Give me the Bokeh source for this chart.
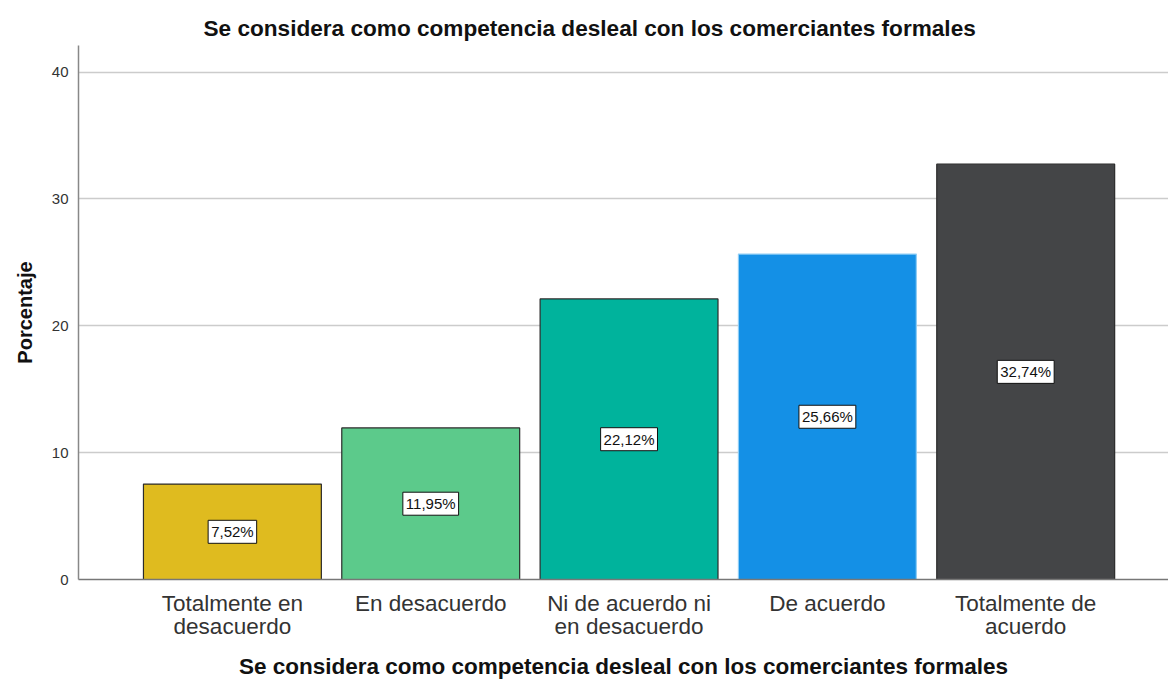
from bokeh.plotting import figure
from bokeh.models import ColumnDataSource, FixedTicker, Title
from bokeh.core.properties import value
from bokeh.embed import file_html
from bokeh.resources import INLINE

categories = ["Totalmente en\ndesacuerdo", "En desacuerdo", "Ni de acuerdo ni\nen desacuerdo", "De acuerdo", "Totalmente de\nacuerdo"]
values = [7.52, 11.95, 22.12, 25.66, 32.74]
labels = ["7,52%", "11,95%", "22,12%", "25,66%", "32,74%"]
colors = ["#DFBB1F", "#5CCA8B", "#00B39C", "#1490E6", "#444547"]
outline = ["#2b2b2b", "#2b2b2b", "#2b2b2b", "#8fcdf5", "#2b2b2b"]
y_ticks = [0, 10, 20, 30, 40]

xs = list(range(1, len(categories) + 1))
src = ColumnDataSource(dict(x=xs, top=values, mid=[v / 2 for v in values],
                            lab=labels, color=colors, outline=outline))

FONT = "Liberation Sans"

p = figure(width=1168, height=682, output_backend="svg", toolbar_location=None,
           x_range=(0.224, 5.72), y_range=(0, 42.1),
           min_border_left=78, min_border_right=0, min_border_top=45, min_border_bottom=100)

p.vbar(x="x", top="top", width=0.897, source=src, fill_color="color",
       line_color="outline", line_width=1.2)

p.text(x="x", y="mid", text="lab", source=src, text_align="center",
       text_baseline="middle", text_font_size="15px", text_font=value(FONT),
       text_color="#111111", background_fill_color="white",
       border_line_color="#111111", border_line_width=1, padding=3)

p.title = Title(text="Se considera como competencia desleal con los comerciantes formales",
                align="left", text_font=FONT, text_font_size="22.6px",
                text_font_style="bold", text_color="#111111", offset=125)

p.xaxis.ticker = FixedTicker(ticks=xs)
p.xaxis.major_label_overrides = {x: c for x, c in zip(xs, categories)}
p.xaxis.major_label_text_font = FONT
p.xaxis.major_label_text_font_size = "22.5px"
p.xaxis.major_label_text_color = "#333333"
p.xaxis.major_label_text_line_height = 0.95
p.xaxis.major_label_standoff = 5
p.xaxis.major_tick_line_color = None
p.xaxis.minor_tick_line_color = None
p.xaxis.axis_line_color = "#777777"
p.xaxis.axis_line_width = 1.5
p.xaxis.axis_label = "Se considera como competencia desleal con los comerciantes formales"
p.xaxis.axis_label_text_font = FONT
p.xaxis.axis_label_text_font_size = "22.5px"
p.xaxis.axis_label_text_font_style = "bold"
p.xaxis.axis_label_text_color = "#111111"
p.xaxis.axis_label_standoff = 12

p.yaxis.ticker = FixedTicker(ticks=y_ticks)
p.yaxis.major_label_text_font = FONT
p.yaxis.major_label_text_font_size = "15px"
p.yaxis.major_label_text_color = "#333333"
p.yaxis.major_label_standoff = 4
p.yaxis.major_tick_line_color = None
p.yaxis.minor_tick_line_color = None
p.yaxis.axis_line_color = "#888888"
p.yaxis.axis_line_width = 1.5
p.yaxis.axis_label = "Porcentaje"
p.yaxis.axis_label_text_font = FONT
p.yaxis.axis_label_text_font_size = "20px"
p.yaxis.axis_label_text_font_style = "bold"
p.yaxis.axis_label_text_color = "#111111"
p.yaxis.axis_label_standoff = 13

p.xgrid.grid_line_color = None
p.ygrid.ticker = FixedTicker(ticks=y_ticks[1:])
p.ygrid.grid_line_color = "#cccccc"
p.ygrid.grid_line_width = 1.5
p.outline_line_color = None

open("out.html", "w").write(file_html(p, INLINE))
